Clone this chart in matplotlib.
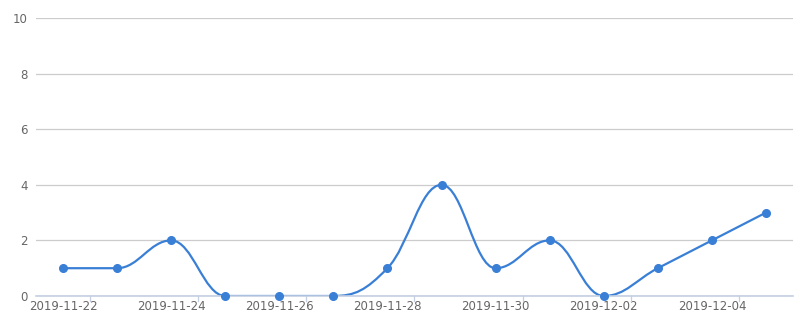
import numpy as np
import matplotlib
matplotlib.use('Agg')
from matplotlib import pyplot as plt
from matplotlib.path import Path
from matplotlib.patches import PathPatch


# <-- DATA -->
dates = ['2019-11-22', '2019-11-23', '2019-11-24', '2019-11-25', '2019-11-26',
         '2019-11-27', '2019-11-28', '2019-11-29', '2019-11-30', '2019-12-01',
         '2019-12-02', '2019-12-03', '2019-12-04', '2019-12-05']
counts = [1, 1, 2, 0, 0, 0, 1, 4, 1, 2, 0, 1, 2, 3]
y_ticks = [0, 2, 4, 6, 8, 10]

LINE_COLOR = '#3a7fd6'
GRID_COLOR = '#cccccc'
AXIS_COLOR = '#c4cfe2'
LABEL_COLOR = '#666666'


# Spline with control points at 0.4 of each interval, clamped so the
# curve never overshoots its neighbours (same idea as a highcharts spline)
def spline_path(xs, ys, smoothing=1.5):
    denom = smoothing + 1
    n = len(xs)
    left = [None] * n
    right = [None] * n
    for i in range(1, n - 1):
        lx, ly = xs[i - 1], ys[i - 1]
        px, py = xs[i], ys[i]
        nx, ny = xs[i + 1], ys[i + 1]
        lcx = (smoothing * px + lx) / denom
        lcy = (smoothing * py + ly) / denom
        rcx = (smoothing * px + nx) / denom
        rcy = (smoothing * py + ny) / denom
        corr = (rcy - lcy) * (rcx - px) / (rcx - lcx) + py - rcy
        lcy += corr
        rcy += corr
        if lcy > ly and lcy > py:
            lcy = max(ly, py)
            rcy = 2 * py - lcy
        elif lcy < ly and lcy < py:
            lcy = min(ly, py)
            rcy = 2 * py - lcy
        if rcy > ny and rcy > py:
            rcy = max(ny, py)
            lcy = 2 * py - rcy
        elif rcy < ny and rcy < py:
            rcy = min(ny, py)
            lcy = 2 * py - rcy
        left[i] = (lcx, lcy)
        right[i] = (rcx, rcy)

    verts = [(xs[0], ys[0])]
    codes = [Path.MOVETO]
    for i in range(1, n):
        c0 = right[i - 1] if right[i - 1] is not None else (xs[i - 1], ys[i - 1])
        c1 = left[i] if left[i] is not None else (xs[i], ys[i])
        verts += [c0, c1, (xs[i], ys[i])]
        codes += [Path.CURVE4] * 3
    return Path(verts, codes)


fig = plt.figure(figsize=(8.12, 3.26), dpi=100)
ax = fig.add_axes([36 / 812, 30 / 326, 757 / 812, 278 / 326])

x = np.arange(len(dates))
ax.set_xlim(-0.5, len(dates) - 0.5)
ax.set_ylim(0, 10)

ax.add_patch(PathPatch(spline_path(x.astype(float), np.array(counts, dtype=float)),
                       facecolor='none', edgecolor=LINE_COLOR, lw=1.6, zorder=2,
                       capstyle='round', joinstyle='round'))
ax.plot(x, counts, 'o', color=LINE_COLOR, markersize=5.5, zorder=4, clip_on=False)

# Grid
ax.set_yticks(y_ticks)
ax.yaxis.grid(True, color=GRID_COLOR, lw=0.9)
ax.set_axisbelow(True)
ax.tick_params(axis='y', length=0, pad=6, labelsize=8.5, labelcolor=LABEL_COLOR)

# Category axis: labels on every other day, ticks on band boundaries
ax.set_xticks(x[::2])
ax.set_xticklabels(dates[::2])
ax.tick_params(axis='x', length=0, pad=3, labelsize=8.5, labelcolor=LABEL_COLOR)
for b in x[::2] + 0.5:
    ax.plot([b, b], [0, -0.17], color=AXIS_COLOR, lw=0.9, clip_on=False, zorder=3)

for side in ['top', 'right', 'left']:
    ax.spines[side].set_visible(False)
ax.spines['bottom'].set_color(AXIS_COLOR)
ax.spines['bottom'].set_linewidth(1.2)
ax.spines['bottom'].set_zorder(3)

fig.savefig('out.png', dpi=100)
